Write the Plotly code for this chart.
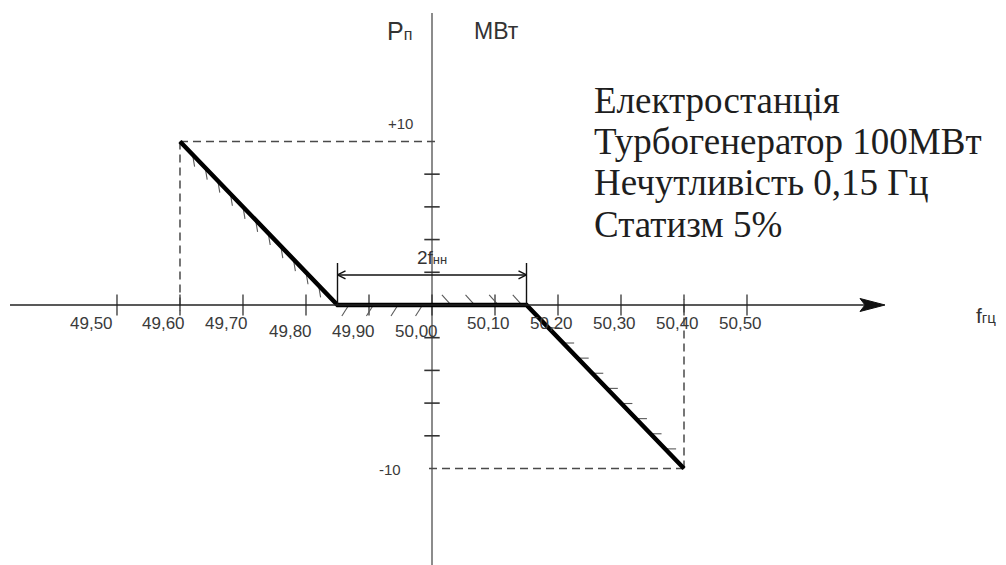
import numpy as np
import plotly.graph_objects as go

# Static characteristic of the turbine governor: frequency (Hz) vs power change (MW)
freq = [49.60, 49.85, 50.15, 50.40]
power = [10, 0, 0, -10]

# Frequency axis ticks and their labels
f_ticks = [49.50, 49.60, 49.70, 49.80, 49.90, 50.00, 50.10, 50.20, 50.30, 50.40, 50.50]
f_labels = ["49,50", "49,60", "49,70", "49,80", "49,90", "50,00",
            "50,10", "50,20", "50,30", "50,40", "50,50"]

# Power axis minor ticks (MW) and the labelled limits
p_ticks = [-8, -6, -4, -2, 2, 4, 6, 8]
p_limits = [10, -10]
p_limit_labels = ["+10", "-10"]

info_lines = ["Електростанція", "Турбогенератор 100МВт",
              "Нечутливість 0,15 Гц", "Статизм 5%"]

W, H = 1006, 565
f_nom = 50.0
x_range = [49.3143, 50.9111]
y_range = [-15.90, 18.65]
kx = W / (x_range[1] - x_range[0])   # px per Hz
ky = H / (y_range[1] - y_range[0])   # px per MW

SANS = "Liberation Sans"
SERIF = "Liberation Serif"


def px_x(p):
    return p / kx


def px_y(p):
    return p / ky


fig = go.Figure()

# ---- axes -------------------------------------------------------------
f_axis_start = x_range[0] + px_x(10)
f_axis_tip = x_range[0] + px_x(885)
p_axis_top = y_range[1] - px_y(13)

fig.add_shape(type="line", x0=f_nom, x1=f_nom, y0=y_range[0], y1=p_axis_top,
              line=dict(color="#8c8c8c", width=2), layer="below")
fig.add_shape(type="line", x0=f_axis_start, x1=f_axis_tip - px_x(20), y0=0, y1=0,
              line=dict(color="#222222", width=1.6))
# arrow head of the frequency axis
head_len, head_half = px_x(25), px_y(6.5)
fig.add_trace(go.Scatter(
    x=[f_axis_tip, f_axis_tip - head_len, f_axis_tip - head_len * 0.8,
       f_axis_tip - head_len, f_axis_tip],
    y=[0, head_half, 0, -head_half, 0],
    mode="lines", fill="toself", fillcolor="#111111",
    line=dict(color="#111111", width=1), hoverinfo="skip", showlegend=False))

# frequency ticks
fig.add_trace(go.Scatter(
    x=f_ticks, y=[0] * len(f_ticks), mode="markers",
    marker=dict(symbol="line-ns", size=15, line=dict(color="#333333", width=1.3)),
    hoverinfo="skip", showlegend=False))
# power ticks
fig.add_trace(go.Scatter(
    x=[f_nom] * len(p_ticks), y=p_ticks, mode="markers",
    marker=dict(symbol="line-ew", size=11, line=dict(color="#333333", width=1.6)),
    hoverinfo="skip", showlegend=False))

# frequency tick labels
for f, lab in zip(f_ticks, f_labels):
    lowered = 49.75 < f < 50.05
    if f < 49.55:
        shift = -25
    elif f <= f_nom:
        shift = -16
    else:
        shift = -7
    fig.add_annotation(x=f, y=0, text=lab, showarrow=False,
                       xshift=shift, yshift=-27 if lowered else -19,
                       font=dict(family=SANS, size=17, color="#3a3a3a"))

# ---- dashed projections of the limits ---------------------------------
dash_style = dict(color="#4a4a4a", width=1.5, dash="8px,5px")
fig.add_trace(go.Scatter(
    x=[freq[0], f_nom + px_x(8), None, freq[0], freq[0], None,
       freq[-1], f_nom - px_x(4), None, freq[-1], freq[-1]],
    y=[power[0], power[0], None, power[0], -px_y(6), None,
       power[-1], power[-1], None, power[-1], px_y(6)],
    mode="lines", line=dash_style, hoverinfo="skip", showlegend=False))

for p, lab in zip(p_limits, p_limit_labels):
    fig.add_annotation(x=f_nom, y=p, text=lab, showarrow=False,
                       xshift=-32 if p > 0 else -42, yshift=18 if p > 0 else -1,
                       font=dict(family=SANS, size=15, color="#3a3a3a"))

# ---- hatching along the characteristic --------------------------------
hx, hy = [], []


def hatch(xa, ya, xb, yb, fracs, dpx, dpy):
    for t in fracs:
        x = xa + (xb - xa) * t
        y = ya + (yb - ya) * t
        hx.extend([x, x + px_x(dpx), None])
        hy.extend([y, y + px_y(dpy), None])


hatch(freq[0], power[0], freq[1], power[1], np.linspace(0.08, 0.88, 11), 2, -12)
hatch(freq[1], power[1], f_nom, power[2], np.linspace(0.12, 0.9, 4), -7, -11)
hatch(f_nom, power[1], freq[2], power[2], np.linspace(0.2, 0.95, 4), -9, 10)
hatch(freq[2], power[2], freq[3], power[3], np.linspace(0.14, 0.88, 9), 11, 0)

fig.add_trace(go.Scatter(x=hx, y=hy, mode="lines",
                         line=dict(color="#5a5a5a", width=1.1),
                         hoverinfo="skip", showlegend=False))

# ---- governor characteristic --------------------------------------------
fig.add_trace(go.Scatter(x=freq, y=power, mode="lines",
                         line=dict(color="#000000", width=4.5),
                         hoverinfo="skip", showlegend=False))

# ---- dead band dimension 2f_нн ------------------------------------------
dim_y = px_y(30)
ext_top = px_y(42)
ax_len, ax_half = px_x(8), px_y(4)
fig.add_trace(go.Scatter(
    x=[freq[1], freq[1], None, freq[2], freq[2], None, freq[1], freq[2], None,
       freq[1] + ax_len, freq[1], freq[1] + ax_len, None,
       freq[2] - ax_len, freq[2], freq[2] - ax_len],
    y=[0, ext_top, None, 0, ext_top, None, dim_y, dim_y, None,
       dim_y + ax_half, dim_y, dim_y - ax_half, None,
       dim_y + ax_half, dim_y, dim_y - ax_half],
    mode="lines", line=dict(color="#111111", width=1.4),
    hoverinfo="skip", showlegend=False))
fig.add_annotation(x=(freq[1] + freq[2]) / 2, y=dim_y, yshift=17, showarrow=False,
                   text="2f<span style='font-size:13px'>нн</span>",
                   font=dict(family=SANS, size=19, color="#333333"))

# ---- axis titles --------------------------------------------------------
fig.add_annotation(x=f_nom, y=y_range[1], yshift=-31, xshift=-33, showarrow=False,
                   yanchor="middle",
                   text="P<span style='font-size:16px'>п</span>",
                   font=dict(family=SANS, size=25, color="#333333"))
fig.add_annotation(x=f_nom, y=y_range[1], yshift=-31, xshift=64, showarrow=False,
                   yanchor="middle", text="МВт",
                   font=dict(family=SANS, size=23, color="#333333"))
fig.add_annotation(x=x_range[1], y=0, xshift=-20, yshift=-11, showarrow=False,
                   text="f<span style='font-size:15px'>гц</span>",
                   font=dict(family=SANS, size=21, color="#333333"))

# ---- station info block -------------------------------------------------
for i, line in enumerate(info_lines):
    fig.add_annotation(xref="paper", yref="paper", x=592 / W, y=1 - (100 + 41.5 * i) / H,
                       xanchor="left", yanchor="middle", showarrow=False, text=line,
                       font=dict(family=SERIF, size=37, color="#1e1e1e"))

fig.update_layout(
    width=W, height=H, margin=dict(l=0, r=0, t=0, b=0),
    paper_bgcolor="white", plot_bgcolor="white", showlegend=False,
    xaxis=dict(range=x_range, visible=False, fixedrange=True),
    yaxis=dict(range=y_range, visible=False, fixedrange=True),
)

fig.write_html("out.html")
